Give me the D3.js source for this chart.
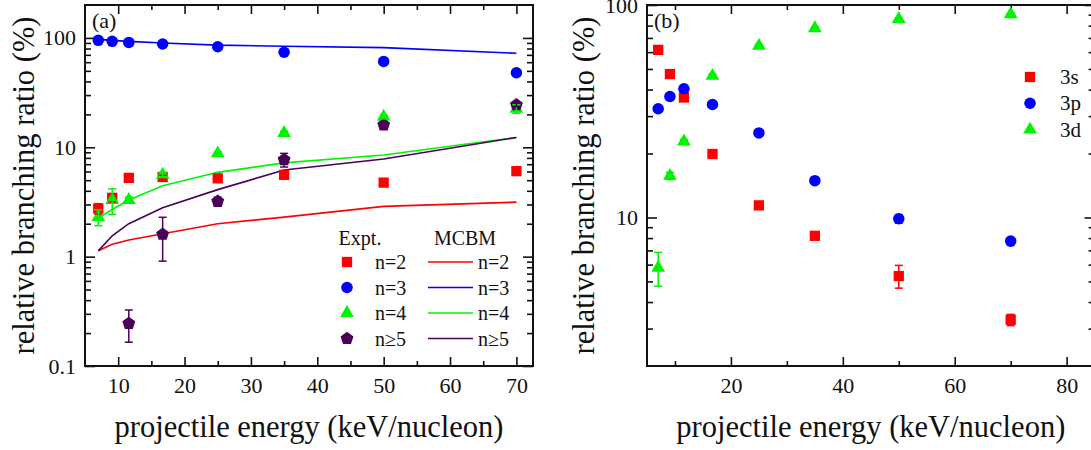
<!DOCTYPE html>
<html>
<head>
<meta charset="utf-8">
<script src="https://cdn.jsdelivr.net/npm/d3@7"></script>
<style>
  body { margin: 0; background: #fff; }
  svg { display: block; font-family: "Liberation Serif", "Times New Roman", serif; }
  .axis text { font-family: "Liberation Serif", "Times New Roman", serif; font-size: 22px; fill: #111; }
  .axis line { stroke: #111; stroke-width: 1.6px; }
  .title { font-size: 30.5px; fill: #111; }
  .leg { font-size: 20px; fill: #111; }
</style>
</head>
<body>
<svg id="chart" width="1091" height="450"></svg>
<script>
// energies (keV/nucleon) shared by both panels
const energy = [7, 9.1, 11.6, 16.7, 25, 35, 50, 70];

// panel (a) experiment
const exptN2 = [2.75, 3.45, 5.25, 5.35, 5.2, 5.6, 4.75, 6.05];
const exptN2Err = [0.3, 0.3, 0.2, 0.2, 0.2, 0.2, 0.2, 0.2];
const exptN3 = [95, 93, 91, 88, 83, 74, 61, 48];
const exptN3Err = [2, 2, 2, 2, 2, 2, 2, 2];
const exptN4 = [2.3, 3.3, 3.3, 5.6, 8.8, 13.5, 19, 22.5];
const exptN4Err = [0.38, 0.87, 0.2, 0.3, 0.3, 0.5, 0.8, 2.0];
const energyN5 = [11.6, 16.7, 25, 35, 50, 70];
const exptN5 = [0.245, 1.6, 3.2, 7.7, 16, 24.5];
const exptN5Err = [0.08, 0.69, 0.3, 1.1, 1.0, 1.0];

// panel (a) MCBM calculation
const mcbmN2 = [1.13, 1.3, 1.42, 1.62, 2.0, 2.3, 2.88, 3.15];
const mcbmN3 = [97, 95, 93, 90, 86, 84, 81.5, 72.5];
const mcbmN4 = [2.25, 2.7, 3.3, 4.45, 5.9, 7.2, 8.5, 12.3];
const mcbmN5 = [1.13, 1.55, 2.0, 2.8, 4.1, 6.2, 7.8, 12.3];

// panel (b) 3l sublevels
const sub3s = [61.5, 47.3, 36.7, 19.9, 11.4, 8.2, 5.3, 3.3];
const sub3sErr = [1, 1, 1, 0.5, 0.3, 0.3, 0.65, 0.2];
const sub3p = [32.5, 37.1, 40.3, 34.0, 25.0, 14.9, 9.86, 7.74];
const sub3pErr = [1, 1, 1, 1, 0.5, 0.3, 0.45, 0.2];
const sub3d = [5.8, 15.7, 22.8, 46.4, 64.2, 77.8, 86, 90.4];
const sub3dErr = [1.05, 0.6, 0.5, 1, 1, 1, 1, 1];

// tick labels
const xTicksA = [10, 20, 30, 40, 50, 60, 70];
const xMinorA = [15, 25, 35, 45, 55, 65];
const yTicksA = [0.1, 1, 10, 100];
const xTicksB = [20, 40, 60, 80];
const xMinorB = [10, 30, 50, 70];
const yTicksB = [10, 100];

const legendA = ['n=2', 'n=3', 'n=4', 'n\u22655'];
const legendB = ['3s', '3p', '3d'];

const RED = '#ff0000', BLUE = '#0000ff', GREEN = '#00f400', PURPLE = '#4a0058';

const svg = d3.select('#chart');

const pentagon = {
  draw(ctx, size) {
    const r = Math.sqrt(size);
    for (let i = 0; i < 5; i++) {
      const a = -Math.PI / 2 + i * 2 * Math.PI / 5;
      const px = r * Math.cos(a), py = r * Math.sin(a);
      i ? ctx.lineTo(px, py) : ctx.moveTo(px, py);
    }
    ctx.closePath();
  }
};
const shapes = {
  square: d3.symbol(d3.symbolSquare, 106),
  circle: d3.symbol(d3.symbolCircle, 104),
  triangle: d3.symbol(d3.symbolTriangle, 82),
  pentagon: d3.symbol(pentagon, 46)
};

function logMinors(domain) {
  const out = [];
  for (let p = Math.floor(Math.log10(domain[0])); p <= Math.ceil(Math.log10(domain[1])); p++) {
    for (let m = 2; m <= 9; m++) {
      const v = m * Math.pow(10, p);
      if (v > domain[0] && v < domain[1]) out.push(v);
    }
  }
  return out;
}

function drawAxes(x, y, box, xMajor, xMinor, yMajor) {
  const clean = g => g.attr('font-family', null).select('.domain').remove();
  const yMinor = logMinors(y.domain());

  svg.append('g').attr('class', 'axis')
    .attr('transform', `translate(0,${box.bottom})`)
    .call(d3.axisBottom(x).tickValues(xMajor).tickSize(-9).tickPadding(11).tickFormat(d3.format('d')))
    .call(clean);
  svg.append('g').attr('class', 'axis')
    .attr('transform', `translate(0,${box.bottom})`)
    .call(d3.axisBottom(x).tickValues(xMinor).tickSize(-5).tickFormat(''))
    .call(clean);
  svg.append('g').attr('class', 'axis')
    .attr('transform', `translate(0,${box.top})`)
    .call(d3.axisTop(x).tickValues(xMajor).tickSize(-9).tickFormat(''))
    .call(clean);
  svg.append('g').attr('class', 'axis')
    .attr('transform', `translate(0,${box.top})`)
    .call(d3.axisTop(x).tickValues(xMinor).tickSize(-5).tickFormat(''))
    .call(clean);

  svg.append('g').attr('class', 'axis')
    .attr('transform', `translate(${box.left},0)`)
    .call(d3.axisLeft(y).tickValues(yMajor).tickSize(-10).tickPadding(9).tickFormat(d => d < 1 ? d : d3.format('d')(d)))
    .call(clean);
  svg.append('g').attr('class', 'axis')
    .attr('transform', `translate(${box.left},0)`)
    .call(d3.axisLeft(y).tickValues(yMinor).tickSize(-6).tickFormat(''))
    .call(clean);
  svg.append('g').attr('class', 'axis')
    .attr('transform', `translate(${box.right},0)`)
    .call(d3.axisRight(y).tickValues(yMajor).tickSize(-10).tickFormat(''))
    .call(clean);
  svg.append('g').attr('class', 'axis')
    .attr('transform', `translate(${box.right},0)`)
    .call(d3.axisRight(y).tickValues(yMinor).tickSize(-6).tickFormat(''))
    .call(clean);

  svg.append('rect')
    .attr('x', box.left).attr('y', box.top)
    .attr('width', box.right - box.left).attr('height', box.bottom - box.top)
    .attr('fill', 'none').attr('stroke', '#111').attr('stroke-width', 2);

  svg.append('text').attr('class', 'title')
    .attr('x', (box.left + box.right) / 2).attr('y', 437)
    .attr('text-anchor', 'middle')
    .text('projectile energy (keV/nucleon)');
}

function yTitle(xPos, box) {
  svg.append('text').attr('class', 'title')
    .attr('transform', `translate(${xPos},${(box.top + box.bottom) / 2}) rotate(-90)`)
    .attr('text-anchor', 'middle')
    .text('relative branching ratio (%)');
}

function drawLine(x, y, xs, ys, color) {
  svg.append('path')
    .datum(xs.map((e, i) => [e, ys[i]]))
    .attr('fill', 'none').attr('stroke', color).attr('stroke-width', 1.6)
    .attr('d', d3.line().x(d => x(d[0])).y(d => y(d[1])));
}

function drawMarkers(x, y, xs, ys, shape, color) {
  svg.append('g').selectAll('path')
    .data(xs.map((e, i) => [e, ys[i]]))
    .join('path')
    .attr('transform', d => `translate(${x(d[0])},${y(d[1])})`)
    .attr('d', shapes[shape]())
    .attr('fill', color);
}

function drawErrors(x, y, xs, ys, errs, color) {
  const g = svg.append('g').attr('stroke', color).attr('stroke-width', 1.5);
  xs.forEach((e, i) => {
    const cx = x(e), hi = y(ys[i] + errs[i]), lo = y(ys[i] - errs[i]);
    g.append('line').attr('x1', cx).attr('x2', cx).attr('y1', hi).attr('y2', lo);
    g.append('line').attr('x1', cx - 4).attr('x2', cx + 4).attr('y1', hi).attr('y2', hi);
    g.append('line').attr('x1', cx - 4).attr('x2', cx + 4).attr('y1', lo).attr('y2', lo);
  });
}

function renderPanelA() {
  const box = { left: 85, right: 533, top: 5, bottom: 366 };
  const x = d3.scaleLinear().domain([5, 72.5]).range([box.left, box.right]);
  const y = d3.scaleLog().domain([0.1, 200]).range([box.bottom, box.top]);

  drawAxes(x, y, box, xTicksA, xMinorA, yTicksA);
  yTitle(34, box);

  drawLine(x, y, energy, mcbmN2, RED);
  drawLine(x, y, energy, mcbmN3, BLUE);
  drawLine(x, y, energy, mcbmN4, GREEN);
  drawLine(x, y, energy, mcbmN5, PURPLE);

  drawMarkers(x, y, energy, exptN2, 'square', RED);
  drawMarkers(x, y, energy, exptN3, 'circle', BLUE);
  drawMarkers(x, y, energy, exptN4, 'triangle', GREEN);
  drawMarkers(x, y, energyN5, exptN5, 'pentagon', PURPLE);

  drawErrors(x, y, energy, exptN2, exptN2Err, RED);
  drawErrors(x, y, energy, exptN3, exptN3Err, BLUE);
  drawErrors(x, y, energy, exptN4, exptN4Err, GREEN);
  drawErrors(x, y, energyN5, exptN5, exptN5Err, PURPLE);

  svg.append('text').attr('class', 'leg').attr('x', 92).attr('y', 28)
    .style('font-size', '22px').text('(a)');

  // legend
  const colors = [RED, BLUE, GREEN, PURPLE];
  const kinds = ['square', 'circle', 'triangle', 'pentagon'];
  svg.append('text').attr('class', 'leg').attr('x', 360).attr('y', 245)
    .attr('text-anchor', 'middle').text('Expt.');
  svg.append('text').attr('class', 'leg').attr('x', 465).attr('y', 245)
    .attr('text-anchor', 'middle').text('MCBM');
  legendA.forEach((name, i) => {
    const cy = 262 + i * 25.5;
    svg.append('path').attr('transform', `translate(347,${cy})`)
      .attr('d', shapes[kinds[i]]()).attr('fill', colors[i]);
    svg.append('text').attr('class', 'leg').attr('x', 375).attr('y', cy + 7).text(name);
    svg.append('line').attr('x1', 428).attr('x2', 473).attr('y1', cy).attr('y2', cy)
      .attr('stroke', colors[i]).attr('stroke-width', 1.6);
    svg.append('text').attr('class', 'leg').attr('x', 478).attr('y', cy + 7).text(name);
  });
}

function renderPanelB() {
  const box = { left: 647, right: 1094.6, top: 5, bottom: 366 };
  const x = d3.scaleLinear().domain([5, 85]).range([box.left, box.right]);
  const y = d3.scaleLog().domain([2, 100]).range([box.bottom, box.top]);

  drawAxes(x, y, box, xTicksB, xMinorB, yTicksB);
  yTitle(594, box);

  drawMarkers(x, y, energy, sub3s, 'square', RED);
  drawMarkers(x, y, energy, sub3p, 'circle', BLUE);
  drawMarkers(x, y, energy, sub3d, 'triangle', GREEN);

  drawErrors(x, y, energy, sub3s, sub3sErr, RED);
  drawErrors(x, y, energy, sub3p, sub3pErr, BLUE);
  drawErrors(x, y, energy, sub3d, sub3dErr, GREEN);

  svg.append('text').attr('class', 'leg').attr('x', 654).attr('y', 28)
    .style('font-size', '22px').text('(b)');

  const colors = [RED, BLUE, GREEN];
  const kinds = ['square', 'circle', 'triangle'];
  legendB.forEach((name, i) => {
    const cy = 77 + i * 26.3;
    svg.append('path').attr('transform', `translate(1030,${cy})`)
      .attr('d', shapes[kinds[i]]()).attr('fill', colors[i]);
    svg.append('text').attr('class', 'leg').attr('x', 1060).attr('y', cy + 7)
      .style('font-size', '21px').text(name);
  });
}

renderPanelA();
renderPanelB();
</script>
</body>
</html>
